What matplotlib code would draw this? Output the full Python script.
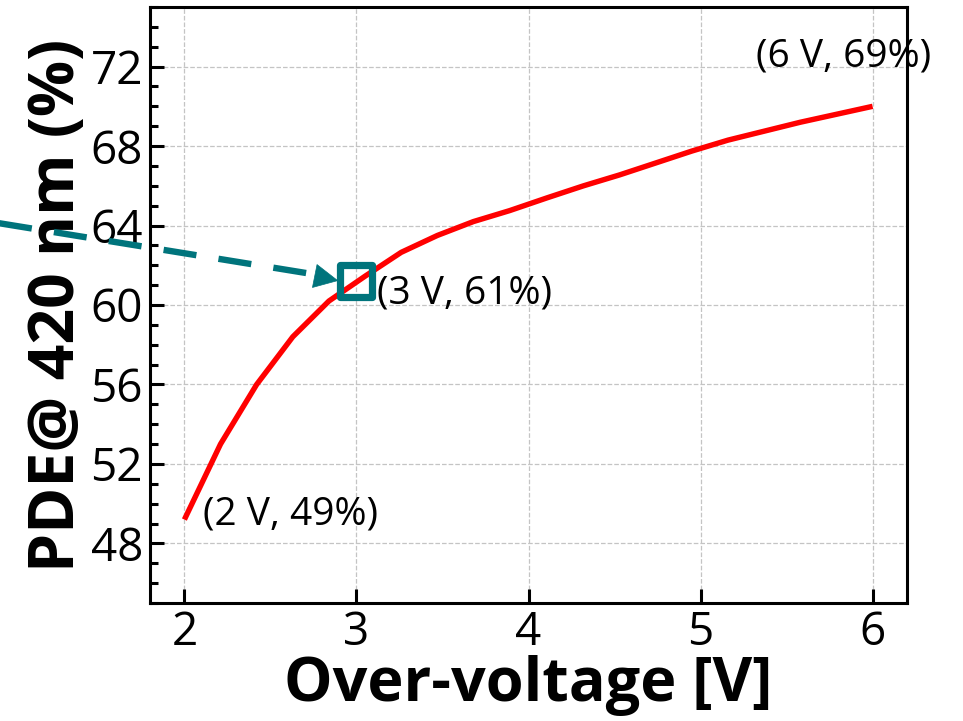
import matplotlib
matplotlib.use("Agg")
import matplotlib.pyplot as plt
from matplotlib.markers import MarkerStyle
from matplotlib.ticker import MultipleLocator

# over-voltage [V] and PDE at 420 nm [%]
voltage = [2.00, 2.21, 2.42, 2.63, 2.84, 3.05, 3.26, 3.47, 3.68, 3.89,
           4.11, 4.32, 4.53, 4.74, 4.95, 5.16, 5.37, 5.58, 5.79, 6.00]
pde = [49.2, 53.0, 56.0, 58.4, 60.2, 61.45, 62.65, 63.5, 64.2, 64.75,
       65.4, 66.0, 66.55, 67.15, 67.75, 68.3, 68.75, 69.2, 69.6, 70.0]

x_ticks = [2, 3, 4, 5, 6]
y_ticks = [48, 52, 56, 60, 64, 68, 72]

# highlighted operating point and point labels
op_point = (3.0, 61.2)
labels = ["(2 V, 49%)", "(3 V, 61%)", "(6 V, 69%)"]
label_pos = [(2.11, 48.96), (3.12, 60.07), (5.32, 71.99)]

TEAL = '#00747c'
FONT = 'Open Sans'
plt.rcParams['font.family'] = [FONT, 'DejaVu Sans']

fig = plt.figure(figsize=(9.63, 7.21), dpi=100)
fig.patch.set_facecolor('white')
ax = fig.add_axes([150/963, 1 - 603/721, 757/963, 596/721])

ax.plot(voltage, pde, color='red', lw=3.9, solid_capstyle='butt', zorder=3)

ax.set_xlim(1.8, 6.2)
ax.set_ylim(45, 75)
ax.set_xticks(x_ticks)
ax.set_yticks(y_ticks)
ax.yaxis.set_minor_locator(MultipleLocator(1))
ax.grid(True, which='major', ls='--', color='#c4c4c4', lw=0.9)

for sp in ax.spines.values():
    sp.set_linewidth(2.2)
ax.tick_params(which='both', direction='in', width=2.2, labelsize=33,
               top=False, right=False, pad=5)
ax.tick_params(which='major', length=10)
ax.tick_params(which='minor', length=6)

ax.set_xlabel('Over-voltage [V]', fontsize=44, fontweight='bold', labelpad=-1)
ax.set_ylabel('PDE@ 420 nm (%)', fontsize=45, fontweight='bold', labelpad=1)

for txt, (tx, ty) in zip(labels, label_pos):
    ax.text(tx, ty, txt, fontsize=28, ha='left', va='baseline', zorder=5)

# dashed arrow coming from outside the axes into the operating point
ax.plot([0.90, 2.80], [64.15, 61.48], color=TEAL, lw=4.6, dashes=(5.2, 3.5),
        clip_on=False, solid_capstyle='butt', zorder=4)
ax.annotate('', xy=(2.895, 61.22), xytext=(2.78, 61.42),
            arrowprops=dict(arrowstyle='-|>', color=TEAL, lw=0.5,
                            mutation_scale=42, shrinkA=0, shrinkB=0),
            annotation_clip=False, zorder=4)

ax.plot([op_point[0]], [op_point[1]], marker=MarkerStyle('s', joinstyle='round'),
        ms=23, mfc='none', mec=TEAL, mew=5.2, zorder=6)

fig.savefig('out.png', dpi=100, facecolor='white')
